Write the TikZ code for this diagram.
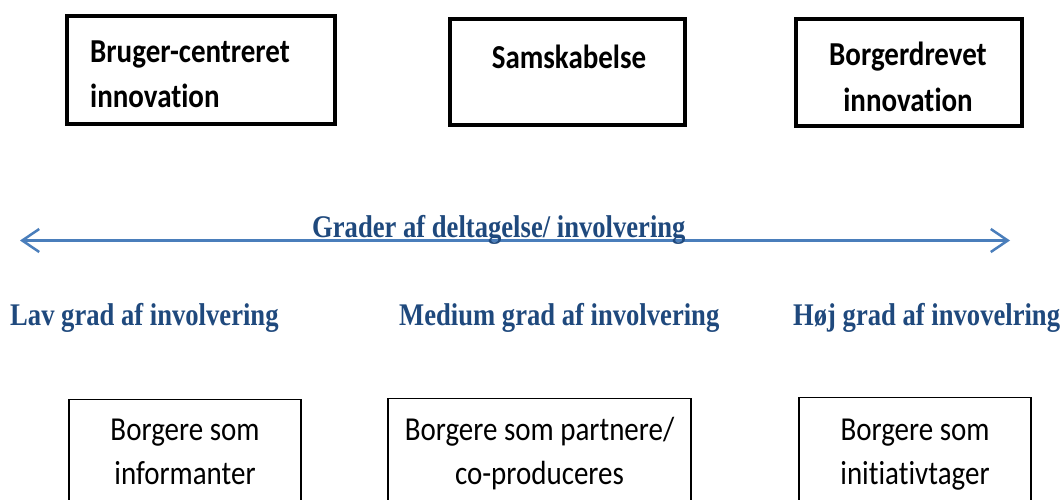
\documentclass[tikz,border=0pt]{standalone}
\usepackage{fontspec}
\usetikzlibrary{arrows.meta}
\newfontfamily\calfont[FakeStretch=0.865, Ligatures=NoCommon]{Carlito}
\newfontfamily\tnrfont[FakeStretch=0.845]{Liberation Serif}
\definecolor{arrowblue}{HTML}{4A7EBB}
\definecolor{textblue}{HTML}{1F497D}
\tikzset{
  topbox/.style={draw=black, line width=4pt, inner sep=0pt, outer sep=0pt},
  botbox/.style={draw=black, line width=1.2pt, inner sep=0pt, outer sep=0pt},
  toptext/.style={inner sep=0pt, font=\calfont\bfseries\fontsize{33.5}{40}\selectfont},
  bottext/.style={inner sep=0pt, font=\calfont\fontsize{33.5}{40}\selectfont},
  degtext/.style={inner sep=0pt, text=textblue, font=\tnrfont\bfseries\fontsize{31.5}{36}\selectfont},
}
\begin{document}
\begin{tikzpicture}[x=1pt,y=-1pt]
\useasboundingbox (0,0) rectangle (1062,500);
\clip (0,0) rectangle (1062,500);
% top boxes
\node[topbox, minimum width=268pt, minimum height=108pt] (b1) at (201,70) {};
\node[topbox, minimum width=235pt, minimum height=106.5pt] (b2) at (567,72) {};
\node[topbox, minimum width=226pt, minimum height=107pt] (b3) at (908.5,72.5) {};
\node[toptext, anchor=base west] (t1a) at (90,63) {Bruger-centreret};
\node[toptext, anchor=base west] (t1b) at (90,108) {innovation};
\node[toptext, anchor=base] (t2) at (569,69) {Samskabelse};
\node[toptext, anchor=base] (t3a) at (908,66) {Borgerdrevet};
\node[toptext, anchor=base] (t3b) at (908,112) {innovation};
% arrow
\coordinate (aL) at (20,240.5);
\coordinate (aR) at (1010,240.5);
\draw[arrowblue, line width=2.5pt, {Straight Barb[length=17pt,width=23pt]}-{Straight Barb[length=17pt,width=23pt]}] (aL) -- (aR);
\node[degtext, anchor=base west] (deg) at (312,237.5) {Grader af deltagelse/ involvering};
% level labels
\node[degtext, anchor=base west] (lav) at (10,325) {Lav grad af involvering};
\node[degtext, anchor=base west] (med) at (399,325) {Medium grad af involvering};
\node[degtext, anchor=base west] (hoj) at (793,325) {Høj grad af invovelring};
% bottom boxes
\node[botbox, minimum width=232pt, minimum height=140pt] (c1) at (185,469.5) {};
\node[botbox, minimum width=303pt, minimum height=140pt] (c2) at (539.5,468.5) {};
\node[botbox, minimum width=232pt, minimum height=140pt] (c3) at (915,467.5) {};
\node[bottext, anchor=base] (c1a) at (185,440) {Borgere som};
\node[bottext, anchor=base] (c1b) at (185,484) {informanter};
\node[bottext, anchor=base] (c2a) at (539.5,440) {Borgere som partnere/};
\node[bottext, anchor=base] (c2b) at (539.5,484) {co-produceres};
\node[bottext, anchor=base] (c3a) at (915,440) {Borgere som};
\node[bottext, anchor=base] (c3b) at (915,484) {initiativtager};
\end{tikzpicture}
\end{document}
